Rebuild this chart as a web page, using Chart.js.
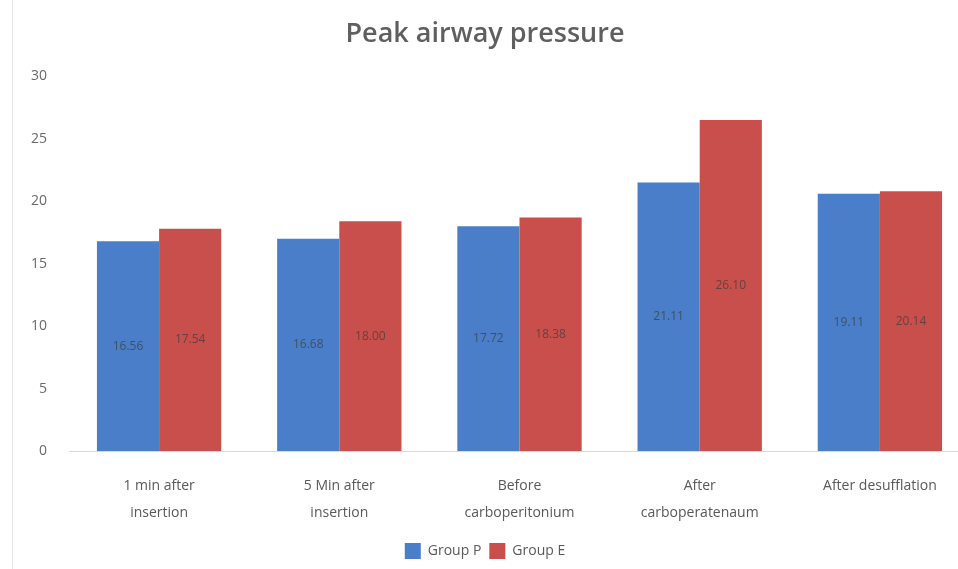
<!DOCTYPE html>
<html>
<head>
<meta charset="utf-8">
<script src="https://cdn.jsdelivr.net/npm/chart.js@4/dist/chart.umd.min.js"></script>
<style>
html,body{margin:0;padding:0;background:#fff;overflow:hidden;width:958px;height:569px;}
#wrap{position:absolute;left:0;top:0;width:1005px;height:569px;}
#edge{position:absolute;left:12px;top:0;width:1px;height:569px;background:#e6e6e6;}
</style>
</head>
<body>
<div id="wrap"><canvas id="c" width="1005" height="569"></canvas></div>
<div id="edge"></div>
<script>
const categories = [
  ["1 min after", "insertion"],
  ["5 Min after", "insertion"],
  ["Before", "carboperitonium"],
  ["After", "carboperatenaum"],
  "After desufflation"
];
const seriesNames = ["Group P", "Group E"];
const groupP = [16.8, 17.0, 18.0, 21.5, 20.6];
const groupE = [17.8, 18.4, 18.7, 26.5, 20.8];
const labelsP = ["16.56", "16.68", "17.72", "21.11", "19.11"];
const labelsE = ["17.54", "18.00", "18.38", "26.10", "20.14"];
const yTicks = [0, 5, 10, 15, 20, 25, 30];

const barText = {
  id: 'barText',
  afterDatasetsDraw(chart) {
    const ctx = chart.ctx;
    const texts = [labelsP, labelsE];
    ctx.save();
    ctx.font = '12px "Open Sans", sans-serif';
    ctx.fillStyle = 'rgba(60,60,60,0.7)';
    ctx.textAlign = 'center';
    ctx.textBaseline = 'middle';
    chart.data.datasets.forEach((ds, di) => {
      chart.getDatasetMeta(di).data.forEach((el, i) => {
        ctx.fillText(texts[di][i], el.x, (el.y + el.base) / 2);
      });
    });
    ctx.restore();
  }
};

new Chart(document.getElementById('c'), {
  type: 'bar',
  data: {
    labels: categories,
    datasets: [
      { label: seriesNames[0], data: groupP, backgroundColor: '#4a7ec8', borderWidth: 0 },
      { label: seriesNames[1], data: groupE, backgroundColor: '#c84f4b', borderWidth: 0 }
    ]
  },
  options: {
    responsive: false,
    animation: false,
    layout: { padding: { left: 0, right: 35, top: 0, bottom: 0 } },
    datasets: { bar: { categoryPercentage: 0.69, barPercentage: 1.0 } },
    plugins: {
      title: {
        display: true,
        text: 'Peak airway pressure',
        color: '#5f5f5f',
        font: { family: '"Open Sans", sans-serif', size: 27, weight: '600' },
        padding: { top: 18, bottom: 26 }
      },
      legend: {
        position: 'bottom',
        labels: {
          color: '#595959',
          font: { family: '"Open Sans", sans-serif', size: 14 },
          boxWidth: 16, boxHeight: 16, padding: 8
        }
      },
      tooltip: { enabled: false }
    },
    scales: {
      x: {
        afterFit(s) { s.height = 84; },
        grid: { display: false },
        border: { display: true, color: '#d9d9d9' },
        ticks: {
          color: '#595959',
          font: { family: '"Open Sans", sans-serif', size: 14, lineHeight: 1.9 },
          maxRotation: 0, autoSkip: false, padding: 14
        }
      },
      y: {
        min: 0, max: 30,
        afterBuildTicks(s) { s.ticks = yTicks.map(v => ({ value: v })); },
        afterFit(s) { s.width = 69; },
        grid: { display: false },
        border: { display: false },
        ticks: {
          color: '#6a6a6a',
          font: { family: '"Open Sans", sans-serif', size: 14 },
          padding: 14
        }
      }
    }
  },
  plugins: [barText]
});
</script>
</body>
</html>
